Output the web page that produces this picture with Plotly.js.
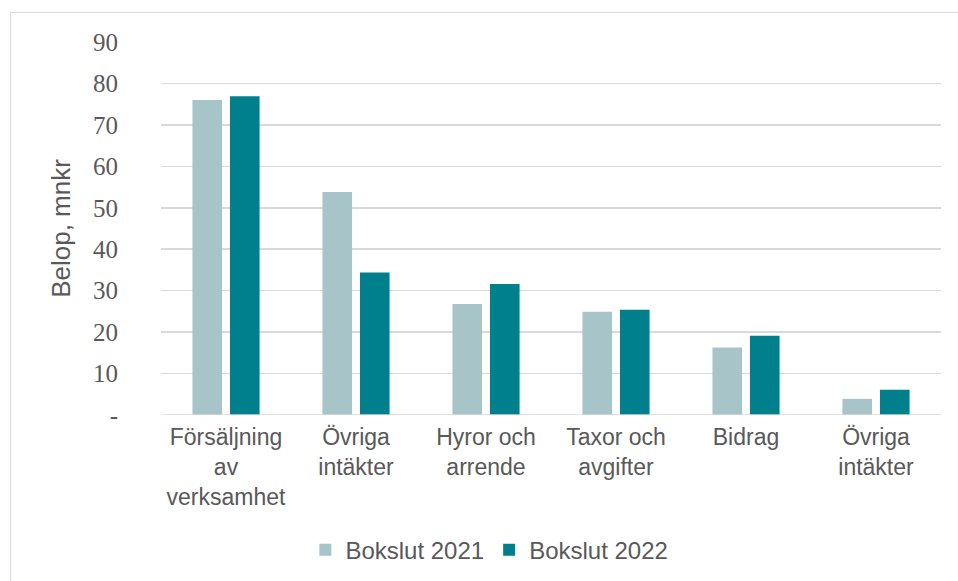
<!DOCTYPE html>
<html><head><meta charset="utf-8">
<script src="https://cdn.plot.ly/plotly-3.0.1.min.js"></script>
<style>
html,body{margin:0;padding:0;background:#fff;}
#frame{position:absolute;left:10px;top:12px;width:1000px;height:700px;border:1px solid #d9d9d9;box-sizing:border-box;}
#chart{position:absolute;left:0;top:0;width:958px;height:581px;}
</style></head>
<body>
<div id="frame"></div>
<div id="chart"></div>
<script>
const categories = ["Försäljning<br>av<br>verksamhet","Övriga<br>intäkter","Hyror och<br>arrende","Taxor och<br>avgifter","Bidrag","Övriga<br>intäkter"];
const bokslut2021 = [76.0, 53.8, 26.8, 24.9, 16.3, 3.9];
const bokslut2022 = [76.9, 34.4, 31.6, 25.4, 19.1, 6.1];
const yTickVals = [0,10,20,30,40,50,60,70,80,90];
const yTickText = ["-","10","20","30","40","50","60","70","80","90"];
const idx = categories.map((c,i)=>i);

const sans = 'Liberation Sans, Arial, sans-serif';
const traces = [
  {type:'bar', name:'Bokslut 2021', x:idx, y:bokslut2021, marker:{color:'#a7c4c9'}},
  {type:'bar', name:'Bokslut 2022', x:idx, y:bokslut2022, marker:{color:'#00808c'}}
];
const layout = {
  width:958, height:581,
  margin:{l:161, r:17, t:42, b:166, autoexpand:false},
  paper_bgcolor:'rgba(0,0,0,0)', plot_bgcolor:'rgba(0,0,0,0)',
  barmode:'group', bargap:0.423, bargroupgap:0.21,
  showlegend:true,
  legend:{orientation:'h', x:0.421, xanchor:'center', y:-0.362, yanchor:'middle',
    font:{family:sans, size:24, color:'#595959'}, itemwidth:30, tracegroupgap:0},
  xaxis:{range:[-0.5,5.5], tickvals:idx, ticktext:categories, showgrid:false, zeroline:false,
    ticks:'', ticklabelstandoff:6, automargin:false,
    tickfont:{family:sans, size:23, color:'#595959'}},
  yaxis:{range:[0,90], tickvals:yTickVals, ticktext:yTickText, showgrid:true, gridcolor:'#d9d9d9', gridwidth:1.5,
    zeroline:false, showline:false, ticks:'', ticklabelstandoff:42, automargin:false,
    tickfont:{family:'Liberation Serif, serif', size:25, color:'#595959'},
    title:{text:'Belop, mnkr', standoff:14, font:{family:sans, size:26, color:'#595959'}}},
  shapes:[{type:'line', xref:'paper', yref:'y', x0:0, x1:1, y0:0, y1:0, line:{color:'#d9d9d9', width:1.5}}]
};
Plotly.newPlot('chart', traces, layout, {displayModeBar:false, staticPlot:true});
</script>
</body></html>
